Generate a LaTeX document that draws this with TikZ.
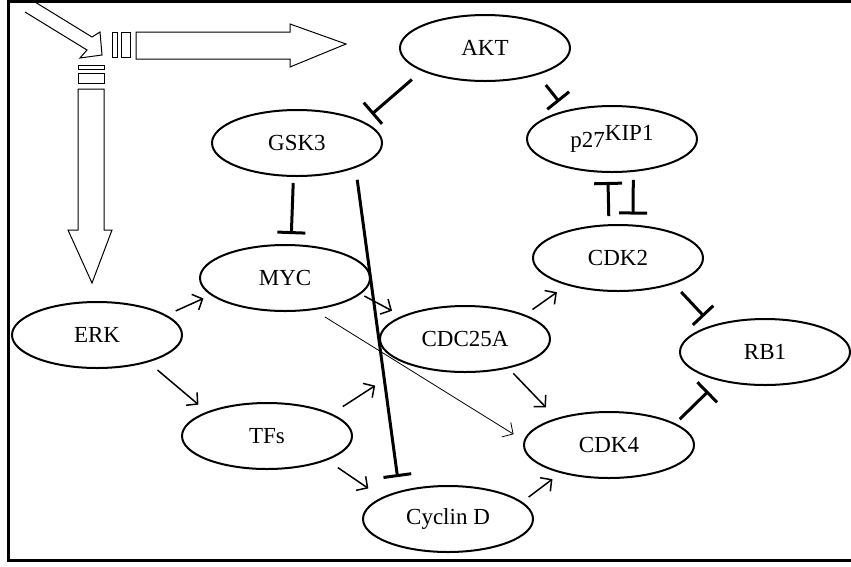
\documentclass[tikz,border=0pt]{standalone}
\usepackage{fontspec}
\setmainfont{Liberation Serif}
\usetikzlibrary{arrows.meta,shapes.geometric}

\begin{document}
\begin{tikzpicture}[x=1pt,y=-1pt,font=\fontsize{23}{27}\selectfont,
 protein/.style={ellipse,draw,line width=2pt,minimum width=170pt,minimum height=66pt,inner sep=0pt},
 act/.style={line width=1.5pt,-{Straight Barb[length=8pt,width=17pt]}},
 inh/.style={line width=3pt,-{Bar[width=28pt]}},
 blockarrow/.style={line width=1pt,line join=miter}]
\useasboundingbox (0,0) rectangle (851,566);
\draw[line width=3pt] (851,1.5) -- (8,1.5) -- (8,560) -- (851,560);

\draw[blockarrow] (35,2) -- (92,37) -- (100,32) -- (102,55) -- (80,58) -- (87,50) -- (25,12);
\draw[blockarrow] (112,32) rectangle (117,57);
\draw[blockarrow] (121,32) rectangle (130,57);
\draw[blockarrow] (136,32) -- (290,32) -- (290,24) -- (346,44) -- (290,67) -- (290,59) -- (136,59) -- cycle;
\draw[blockarrow] (78,65) rectangle (104,69);
\draw[blockarrow] (78,73) rectangle (104,83);
\draw[blockarrow] (78,89) -- (104,89) -- (104,230) -- (112,230) -- (92,283) -- (68,230) -- (78,230) -- cycle;

\node[protein] (akt) at (485,48) {AKT};
\node[protein] (gsk) at (297,143) {GSK3};
\node[protein] (p27) at (612,139) {p27\raisebox{7pt}{KIP1}};
\node[protein] (cdk2) at (618,258) {CDK2};
\node[protein] (myc) at (285,278) {MYC};
\node[protein] (erk) at (97,335) {ERK};
\node[protein] (cdc) at (465,339) {CDC25A};
\node[protein] (rb1) at (765,352) {RB1};
\node[protein] (tfs) at (267,436) {TFs};
\node[protein] (cdk4) at (609,445) {CDK4};
\node[protein] (cycd) at (448,519) {Cyclin D};

\draw[act,shorten <=10pt,shorten >=8pt] (erk.16) -- (myc.193);
\draw[act,shorten <=12pt,shorten >=11pt] (erk.-28) -- (tfs.158);
\draw[act,shorten <=4pt,shorten >=11pt] (myc.-12) -- (cdc.160);
\draw[act,line width=0.8pt,shorten <=13pt,shorten >=12pt] (myc.-48) -- (cdk4.177);
\draw[act,shorten <=13pt,shorten >=39pt] (tfs.19) -- (cdc.204);
\draw[act,shorten <=13pt,shorten >=16pt] (tfs.-22) -- (cycd.162);
\draw[inh,shorten <=12pt,shorten >=14pt] (gsk.-23) -- (cycd.150);
\draw[inh,shorten <=6pt,shorten >=10pt] (gsk.-96) -- (myc.80);
\draw[inh,shorten <=13pt,shorten >=11pt] (akt.200) -- (gsk.18);
\draw[inh,shorten <=13pt,shorten >=11pt] (akt.-27) -- (p27.148);
\draw[inh,shorten <=8pt,shorten >=9pt] (cdk2.105) -- (p27.-97);
\draw[inh,shorten <=8pt,shorten >=10pt] (p27.-57) -- (cdk2.66);
\draw[act,shorten <=9pt,shorten >=12pt] (cdc.22) -- (cdk2.208);
\draw[act,shorten <=7pt,shorten >=15pt] (cdc.-34) -- (cdk4.153);
\draw[act,shorten <=8pt,shorten >=10pt] (cycd.13) -- (cdk4.210);
\draw[inh,shorten <=11pt,shorten >=12pt] (cdk2.-25) -- (rb1.153);
\draw[inh,shorten <=6pt,shorten >=15pt] (cdk4.18) -- (rb1.212);
\end{tikzpicture}
\end{document}
